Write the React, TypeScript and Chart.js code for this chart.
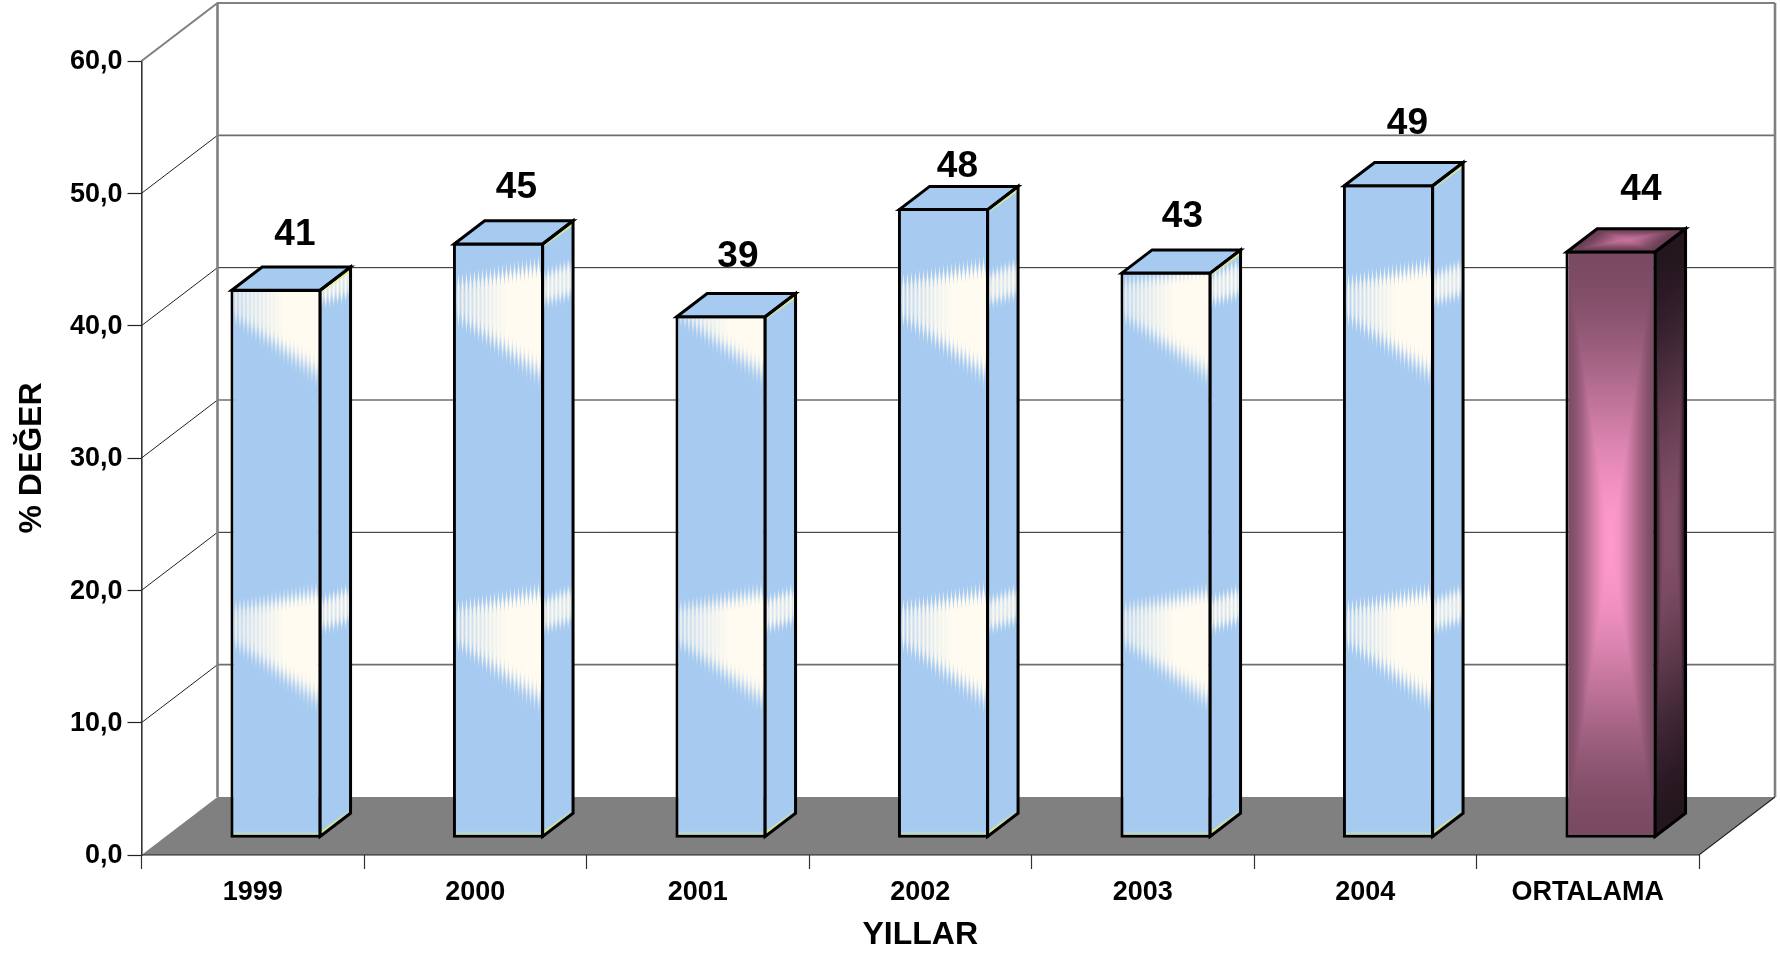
import React, { useEffect, useRef } from "react";
import { Chart, registerables } from "chart.js";

Chart.register(...registerables);

const categories = ["1999", "2000", "2001", "2002", "2003", "2004", "ORTALAMA"];
const values = [41.5, 45.0, 39.5, 47.6, 42.8, 49.4, 44.4];
const valueLabels = ["41", "45", "39", "48", "43", "49", "44"];
const yTickLabels = ["0,0", "10,0", "20,0", "30,0", "40,0", "50,0", "60,0"];
const labelNudgeX = [19, 18, 17, 14, 16.5, 19, 30];
const labelNudgeY = [56, 56, 60, 43, 56, 62, 62];

const FONT = '"Liberation Sans", Arial, sans-serif';
const WALL_DX = 76;
const WALL_DY = 58;
const BAR_OX = 23.2;
const BAR_OY = 16.8;
const BAR_DX = WALL_DX * 0.4;
const BAR_DY = WALL_DY * 0.4;
const BAR_PERCENT = 0.409;
const BORDER = 3;
const AVERAGE_INDEX = 6;

type RGB = [number, number, number];
const BLUE: RGB = [166, 202, 240];
const CREAM: RGB = [255, 251, 240];
const PINK: RGB = [255, 153, 204];
const PLUM: RGB = [122, 74, 98];
const lerp = (a: number, b: number, t: number) => a + (b - a) * t;
const clamp = (t: number) => Math.max(0, Math.min(1, t));
const smooth = (t: number) => {
  const c = clamp(t);
  return c * c * (3 - 2 * c);
};
const mix = (a: RGB, b: RGB, t: number): RGB => [lerp(a[0], b[0], t), lerp(a[1], b[1], t), lerp(a[2], b[2], t)];

function paint(w: number, h: number, fn: (px: number, py: number) => RGB) {
  const c = document.createElement("canvas");
  c.width = Math.ceil(w);
  c.height = Math.ceil(h);
  const g = c.getContext("2d")!;
  const img = g.createImageData(c.width, c.height);
  for (let py = 0; py < c.height; py++) {
    for (let px = 0; px < c.width; px++) {
      const col = fn(px, py);
      const i = (py * c.width + px) * 4;
      img.data[i] = col[0];
      img.data[i + 1] = col[1];
      img.data[i + 2] = col[2];
      img.data[i + 3] = 255;
    }
  }
  g.putImageData(img, 0, 0);
  return c;
}

// The cream wedge of the bar fill, measured upward from the base of a bar.
function wedge(u: number, px: number, above: number, side: boolean) {
  const streak = Math.sin((px * 2 * Math.PI) / 4);
  let best = 0;
  for (const shift of [0, 326]) {
    const top = (side ? lerp(240, 252, u) : lerp(232, 254, u)) + shift;
    const bottom = (side ? lerp(203, 212, u) : lerp(195, 122, u)) + shift;
    const amp = side ? 5 : 7;
    const fadeTop = side ? 10 : lerp(8, 14, u);
    const fadeBottom = side ? 12 : lerp(10, 30, u);
    let a = smooth((top - above + streak * amp) / fadeTop) * smooth((above - bottom + streak * amp) / fadeBottom);
    a *= side ? 0.78 + 0.22 * streak : lerp(0.5 + 0.35 * streak, 1, clamp(u * 1.7));
    best = Math.max(best, a);
  }
  return best;
}

function blueFront(w: number, h: number) {
  return paint(w, h, (px, py) => {
    const base = mix(BLUE, CREAM, wedge(px / w, px, h - py, false));
    return h - py < 8 ? mix(base, [214, 232, 168], (8 - (h - py)) / 6) : base;
  });
}

function blueSide(w: number, h: number, baseFromTop: number) {
  return paint(w, h, (px, py) => mix(BLUE, CREAM, wedge(px / w, px, baseFromTop - py, true)));
}

function rectShade(w: number, h: number, center: RGB, edge: RGB, edgePower = 1) {
  return paint(w, h, (px, py) => {
    const dx = Math.abs((px + 0.5) / w - 0.5) * 2;
    const dy = Math.abs((py + 0.5) / h - 0.5) * 2;
    return mix(center, edge, smooth(Math.max(Math.pow(dx, edgePower), dy)));
  });
}

const patterns: Record<string, CanvasPattern> = {};

function frontFill(ctx: any) {
  const solid = "#A6CAF0";
  if (ctx.dataIndex === undefined) return solid;
  const i = ctx.dataIndex as number;
  const { x: xs, y: ys } = ctx.chart.scales;
  if (!xs || !ys) return solid;
  const width = (xs.getPixelForValue(1) - xs.getPixelForValue(0)) * BAR_PERCENT;
  const top = ys.getPixelForValue(values[i]);
  const h = ys.getPixelForValue(0) - top;
  if (!(width >= 1 && h >= 1)) return solid;
  const left = xs.getPixelForValue(i) - width / 2;
  const key = [i, width, h, left, top].join("_");
  if (patterns[key]) return patterns[key];
  const tex = i === AVERAGE_INDEX ? rectShade(width, h, PINK, PLUM) : blueFront(width, h);
  const p = ctx.chart.ctx.createPattern(tex, "no-repeat") as CanvasPattern;
  p.setTransform(new DOMMatrix().translate(left, top));
  patterns[key] = p;
  return p;
}

function polygon(g: CanvasRenderingContext2D, pts: number[][]) {
  g.beginPath();
  pts.forEach((p, k) => (k ? g.lineTo(p[0], p[1]) : g.moveTo(p[0], p[1])));
  g.closePath();
}

function line(g: CanvasRenderingContext2D, pts: number[][], color: any, width: number) {
  g.beginPath();
  pts.forEach((p, k) => (k ? g.lineTo(p[0], p[1]) : g.moveTo(p[0], p[1])));
  g.strokeStyle = color;
  g.lineWidth = width;
  g.stroke();
}

const wallPlugin = {
  id: "wall",
  beforeDatasetsDraw(chart: any) {
    const g: CanvasRenderingContext2D = chart.ctx;
    const { left, right } = chart.chartArea;
    const ys = chart.scales.y;
    const y0 = ys.getPixelForValue(0);
    const backL = left + WALL_DX;
    const backR = right + WALL_DX;
    g.save();
    polygon(g, [[left, y0], [right, y0], [backR, y0 - WALL_DY], [backL, y0 - WALL_DY]]);
    g.fillStyle = "#808080";
    g.fill();
    ys.ticks.forEach((t: any, k: number) => {
      if (k === 0) return;
      const y = ys.getPixelForValue(t.value);
      const by = y - WALL_DY;
      if (t.value === ys.max) {
        line(g, [[left, y], [backL, by], [backR, by]], "#808080", 2);
      } else {
        line(g, [[left, y], [backL, by]], "#222222", 1);
        if (k % 2) line(g, [[backL, by], [backR, by]], "#6e6e6e", 1.6);
        else line(g, [[backL, by], [backR, by]], "#222222", 1);
      }
    });
    const topY = ys.getPixelForValue(ys.max) - WALL_DY;
    line(g, [[backL, topY], [backL, y0 - WALL_DY]], "#808080", 2.6);
    line(g, [[backR, topY], [backR, y0 - WALL_DY]], "#808080", 2.6);
    line(g, [[left, y0], [right, y0], [backR, y0 - WALL_DY]], "#222222", 1.2);
    g.restore();
  },
  beforeDatasetDraw(chart: any) {
    chart.ctx.save();
    chart.ctx.translate(BAR_OX, -BAR_OY);
  },
  afterDatasetDraw(chart: any) {
    chart.ctx.restore();
  },
  afterDatasetsDraw(chart: any) {
    const g: CanvasRenderingContext2D = chart.ctx;
    const meta = chart.getDatasetMeta(0);
    const inset = 1.3;
    meta.data.forEach((el: any, i: number) => {
      const x0 = el.x - el.width / 2 + BAR_OX + inset;
      const x1 = el.x + el.width / 2 + BAR_OX - inset;
      const top = el.y - BAR_OY + inset;
      const base = el.base - BAR_OY - inset;
      const h = base - top;
      const sidePath = [[x1, top], [x1 + BAR_DX, top - BAR_DY], [x1 + BAR_DX, base - BAR_DY], [x1, base]];
      const topPath = [[x0, top], [x0 + BAR_DX, top - BAR_DY], [x1 + BAR_DX, top - BAR_DY], [x1, top]];
      const avg = i === AVERAGE_INDEX;
      g.save();
      // side face
      g.save();
      polygon(g, sidePath);
      g.clip();
      if (avg) {
        const tex = rectShade(BAR_DX, h, [131, 80, 105], [36, 22, 30], 2.6);
        g.transform(1, -BAR_DY / BAR_DX, 0, 1, x1, top);
        g.drawImage(tex, 0, 0, BAR_DX, h);
      } else {
        g.drawImage(blueSide(BAR_DX, h + BAR_DY, h + BAR_DY), x1, top - BAR_DY);
        const gt = g.createLinearGradient(x1, 0, x1 + BAR_DX, 0);
        gt.addColorStop(0, "rgba(232,240,120,0.25)");
        gt.addColorStop(1, "rgba(232,240,120,0.95)");
        line(g, [[x1, top + 2], [x1 + BAR_DX, top - BAR_DY + 2]], gt, 4);
        const gb = g.createLinearGradient(x1, 0, x1 + BAR_DX, 0);
        gb.addColorStop(0, "rgba(225,235,120,0.95)");
        gb.addColorStop(1, "rgba(225,235,120,0.15)");
        line(g, [[x1, base - 2], [x1 + BAR_DX, base - BAR_DY - 2]], gb, 4);
      }
      g.restore();
      // top face
      g.save();
      polygon(g, topPath);
      g.clip();
      if (avg) {
        const tex = rectShade(x1 - x0, BAR_DY, [196, 114, 154], [104, 62, 84]);
        g.transform(1, 0, -BAR_DX / BAR_DY, 1, x0 + BAR_DX, top - BAR_DY);
        g.drawImage(tex, 0, 0, x1 - x0, BAR_DY);
      } else {
        g.fillStyle = "#A6CAF0";
        g.fill();
      }
      g.restore();
      g.lineJoin = "miter";
      g.strokeStyle = "#000000";
      g.lineWidth = BORDER;
      polygon(g, sidePath);
      g.stroke();
      polygon(g, topPath);
      g.stroke();
      // value label
      g.fillStyle = "#000000";
      g.font = `bold 37px ${FONT}`;
      g.textAlign = "center";
      g.textBaseline = "middle";
      g.fillText(valueLabels[i], (x0 + x1) / 2 + labelNudgeX[i], top - labelNudgeY[i]);
      g.restore();
    });
  },
};

export default function App() {
  const ref = useRef<HTMLCanvasElement>(null);
  useEffect(() => {
    document.body.style.margin = "0";
    document.body.style.background = "#ffffff";
    const chart = new Chart(ref.current!, {
      type: "bar",
      data: {
        labels: categories,
        datasets: [
          {
            data: values,
            backgroundColor: frontFill as any,
            borderColor: "#000000",
            borderWidth: BORDER,
            borderSkipped: false,
            inflateAmount: 0,
            categoryPercentage: 1,
            barPercentage: BAR_PERCENT,
            clip: false as any,
          },
        ],
      },
      options: {
        responsive: false,
        animation: false,
        events: [],
        layout: { padding: { top: 61, right: 81, left: 0, bottom: 0 } },
        plugins: { legend: { display: false }, tooltip: { enabled: false }, title: { display: false } },
        scales: {
          x: {
            grid: { drawOnChartArea: false, tickLength: 14, tickColor: "#333333", tickWidth: 1.2, offset: true },
            border: { display: false },
            ticks: {
              color: "#000000",
              font: { family: FONT, size: 27, weight: "bold" },
              padding: 7,
              maxRotation: 0,
              autoSkip: false,
            },
            title: {
              display: true,
              text: "YILLAR",
              color: "#000000",
              font: { family: FONT, size: 32, weight: "bold" },
              padding: { top: 1.4, bottom: 0 },
            },
            afterFit: (s: any) => {
              s.height = 99;
            },
          },
          y: {
            min: 0,
            max: 60,
            grid: { drawOnChartArea: false, tickLength: 14, tickColor: "#222222", tickWidth: 1.2 },
            border: { display: true, color: "#333333", width: 1.6 },
            ticks: {
              stepSize: 10,
              color: "#000000",
              font: { family: FONT, size: 27, weight: "bold" },
              padding: 5,
              labelOffset: 1,
              callback: (_v: any, k: number) => yTickLabels[k],
            },
            title: {
              display: true,
              text: "% DEĞER",
              color: "#000000",
              font: { family: FONT, size: 32, weight: "bold" },
              padding: { top: 13, bottom: 0 },
            },
            afterFit: (s: any) => {
              s.width = 141.5;
            },
          },
        },
      },
      plugins: [wallPlugin],
    } as any);
    return () => chart.destroy();
  }, []);
  return <canvas ref={ref} width={1780} height={954} style={{ display: "block" }} />;
}
